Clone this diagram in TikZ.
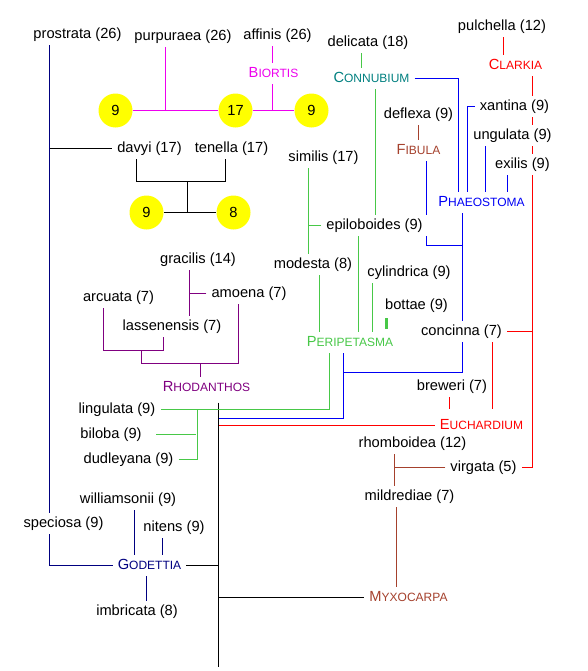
\documentclass[tikz,border=0pt]{standalone}
\usepackage{fontspec}
\setmainfont{Liberation Sans}
\usetikzlibrary{backgrounds}

\definecolor{navycol}{HTML}{000080}
\definecolor{biortiscol}{HTML}{EE00EE}
\definecolor{tealcol}{HTML}{008080}
\definecolor{greencol}{HTML}{48C848}
\definecolor{bluecol}{HTML}{0000F5}
\definecolor{redcol}{HTML}{FF0000}
\definecolor{browncol}{HTML}{A5412D}
\definecolor{purplecol}{HTML}{800080}
\definecolor{chromcol}{HTML}{FFFF00}

% section names in small capitals
\newcommand{\sectlabel}[2]{#1{\fontsize{9}{10}\selectfont #2}}

\begin{document}
\begin{tikzpicture}[x=0.75pt,y=-0.75pt,line width=0.8pt,font=\fontsize{11}{13}\selectfont]

    \tikzstyle{taxon}=[fill=white,inner xsep=3.5pt,inner ysep=2.5pt,text height=8pt,text depth=2.5pt]
    \tikzstyle{chrom}=[circle,fill=chromcol,minimum size=25.5pt,inner sep=0pt]

    \useasboundingbox (0,0) rectangle (587,671);

    \begin{scope}[shift={(0.5,0.5)}]
    % Biortis and the top left
    \node[taxon]                 (prostrata)   at (77,34)     {prostrata (26)};
    \node[taxon]                 (purpuraea)   at (182.5,36)  {purpuraea (26)};
    \node[taxon]                 (affinis)     at (277,35)    {affinis (26)};
    \node[taxon,text=biortiscol] (biortis)     at (273,73)    {\sectlabel{B}{IORTIS}};
    \node[chrom]                 (c9a)         at (115,110)   {9};
    \node[chrom]                 (c17)         at (235,110)   {17};
    \node[chrom]                 (c9b)         at (311,110)   {9};
    \node[taxon]                 (davyi)       at (149,148)   {davyi (17)};
    \node[taxon]                 (tenella)     at (231,148)   {tenella (17)};
    \node[chrom]                 (c9c)         at (146,212)   {9};
    \node[chrom]                 (c8)          at (233,212)   {8};

    % Connubium, Clarkia, Phaeostoma
    \node[taxon]                 (delicata)    at (367.5,42)  {delicata (18)};
    \node[taxon,text=tealcol]    (connubium)   at (371,78)    {\sectlabel{C}{ONNUBIUM}};
    \node[taxon]                 (pulchella)   at (501.5,26)  {pulchella (12)};
    \node[taxon,text=redcol]     (clarkia)     at (515,65)    {\sectlabel{C}{LARKIA}};
    \node[taxon]                 (xantina)     at (514,106)   {xantina (9)};
    \node[taxon]                 (ungulata)    at (512,135)   {ungulata (9)};
    \node[taxon]                 (exilis)      at (522,164)   {exilis (9)};
    \node[taxon]                 (deflexa)     at (418,114)   {deflexa (9)};
    \node[taxon,text=browncol]   (fibula)      at (418,150)   {\sectlabel{F}{IBULA}};
    \node[taxon,text=bluecol]    (phaeostoma)  at (481,202)   {\sectlabel{P}{HAEOSTOMA}};

    % Peripetasma
    \node[taxon]                 (similis)     at (323,157)   {similis (17)};
    \node[taxon]                 (epiloboides) at (374,225)   {epiloboides (9)};
    \node[taxon]                 (modesta)     at (312.5,264) {modesta (8)};
    \node[taxon]                 (cylindrica)  at (408.5,272) {cylindrica (9)};
    \node[taxon]                 (bottae)      at (416,305)   {bottae (9)};
    \node[taxon,text=greencol]   (peripetasma) at (349.5,342) {\sectlabel{P}{ERIPETASMA}};
    \node[taxon]                 (concinna)    at (461,331)   {concinna (7)};

    % Rhodanthos
    \node[taxon]                 (gracilis)    at (197.5,259) {gracilis (14)};
    \node[taxon]                 (amoena)      at (248.5,293) {amoena (7)};
    \node[taxon]                 (arcuata)     at (118,297)   {arcuata (7)};
    \node[taxon]                 (lassenensis) at (171.5,326) {lassenensis (7)};
    \node[taxon,text=purplecol]  (rhodanthos)  at (206,387)   {\sectlabel{R}{HODANTHOS}};
    \node[taxon]                 (lingulata)   at (116.5,409) {lingulata (9)};
    \node[taxon]                 (biloba)      at (110.5,434) {biloba (9)};
    \node[taxon]                 (dudleyana)   at (128,459)   {dudleyana (9)};

    % Euchardium, Myxocarpa
    \node[taxon]                 (breweri)     at (451.5,386) {breweri (7)};
    \node[taxon,text=redcol]     (euchardium)  at (481,425)   {\sectlabel{E}{UCHARDIUM}};
    \node[taxon]                 (rhomboidea)  at (412,443)   {rhomboidea (12)};
    \node[taxon]                 (virgata)     at (483,467)   {virgata (5)};
    \node[taxon]                 (mildrediae)  at (409,496)   {mildrediae (7)};
    \node[taxon,text=browncol]   (myxocarpa)   at (408,597)   {\sectlabel{M}{YXOCARPA}};

    % Godettia
    \node[taxon]                 (williamsonii) at (127.5,499) {williamsonii (9)};
    \node[taxon]                 (speciosa)    at (63,523)    {speciosa (9)};
    \node[taxon]                 (nitens)      at (173.5,527) {nitens (9)};
    \node[taxon,text=navycol]    (godettia)    at (149,565)   {\sectlabel{G}{ODETTIA}};
    \node[taxon]                 (imbricata)   at (136.5,611) {imbricata (8)};

    % branch points
    \coordinate (xg)   at (49,0);
    \coordinate (jP)   at (165,110);
    \coordinate (jA)   at (272,110);
    \coordinate (xDa)  at (136,0);
    \coordinate (xTe)  at (225,0);
    \coordinate (jDT)  at (187,181);
    \coordinate (xD)   at (361,0);
    \coordinate (xC)   at (375,0);
    \coordinate (xK)   at (503,0);
    \coordinate (xR)   at (532,0);
    \coordinate (xP1)  at (458,0);
    \coordinate (xP2)  at (467,0);
    \coordinate (xP3)  at (485,0);
    \coordinate (xP4)  at (507,0);
    \coordinate (xF)   at (426,0);
    \coordinate (jPh)  at (462,245);
    \coordinate (jPe)  at (343,372);
    \coordinate (tTop) at (218,402);
    \coordinate (tBot) at (218,666);
    \coordinate (yB)   at (0,418);
    \coordinate (xS)   at (308,0);
    \coordinate (xM)   at (319,0);
    \coordinate (xE)   at (358,0);
    \coordinate (xCy)  at (372,0);
    \coordinate (xB)   at (386,0);
    \coordinate (xPG)  at (329,0);
    \coordinate (xL)   at (197,0);
    \coordinate (xEu1) at (449,0);
    \coordinate (xEu2) at (492,0);
    \coordinate (xRh)  at (394,0);
    \coordinate (xMi)  at (396,0);
    \coordinate (xGr)  at (189,0);
    \coordinate (xAr)  at (103,0);
    \coordinate (xLa)  at (163,0);
    \coordinate (xAm)  at (238,0);
    \coordinate (jAL)  at (141,350);
    \coordinate (jRh)  at (200,363);
    \coordinate (xWi)  at (134,0);
    \coordinate (xNi)  at (162,0);
    \coordinate (xIm)  at (146,0);
    \end{scope}

    \begin{pgfonlayer}{background}
    % Godettia
    \draw[navycol] (prostrata.south -| xg) -- (speciosa.north -| xg);
    \draw[navycol] (speciosa.south -| xg) |- (godettia.west);
    \draw[navycol] (williamsonii.south -| xWi) -- (godettia.north -| xWi);
    \draw[navycol] (nitens.south -| xNi) -- (godettia.north -| xNi);
    \draw[navycol] (godettia.south -| xIm) -- (imbricata.north -| xIm);

    % black
    \draw (davyi.west -| xg) -- (davyi.west);
    \draw (davyi.south -| xDa) |- (jDT) -| (tenella.south -| xTe);
    \draw (jDT) -- (jDT |- c8);
    \draw (c9c) -- (c8);
    \draw (tTop) -- (tBot);
    \draw (godettia.east) -- (godettia.east -| tTop);
    \draw (myxocarpa.west -| tTop) -- (myxocarpa.west);

    % Biortis
    \draw[biortiscol] (c9a) -- (c17) (c17) -- (c9b);
    \draw[biortiscol] (purpuraea.south -| jP) -- (jP);
    \draw[biortiscol] (affinis.south -| jA) -- (biortis.north -| jA)
                      (biortis.south -| jA) -- (jA);

    % Connubium, Peripetasma
    \draw[greencol] (delicata.south -| xD) -- (connubium.north -| xD);
    \draw[greencol] (connubium.south -| xC) -- (epiloboides.north -| xC);
    \draw[greencol] (similis.south -| xS) -- (modesta.north -| xS);
    \draw[greencol] (epiloboides.west) -- (epiloboides.west -| xS);
    \draw[greencol] (modesta.south -| xM) -- (peripetasma.north -| xM);
    \draw[greencol] (epiloboides.south -| xE) -- (peripetasma.north -| xE);
    \draw[greencol] (cylindrica.south -| xCy) -- (peripetasma.north -| xCy);
    \draw[greencol,line width=1.6pt,shorten <=1.5pt,shorten >=2pt] (bottae.south -| xB) -- (peripetasma.north -| xB);
    \draw[greencol] (peripetasma.south -| xPG) |- (lingulata.east);
    \draw[greencol,shorten <=7pt,shorten >=1.5pt] (biloba.east) -- (biloba.east -| xL);
    \draw[greencol] (dudleyana.east) -| (lingulata.east -| xL);

    % Phaeostoma
    \draw[bluecol] (connubium.east) -| (phaeostoma.north -| xP1);
    \draw[bluecol] (xantina.west) -| (phaeostoma.north -| xP2);
    \draw[bluecol] (ungulata.south -| xP3) -- (phaeostoma.north -| xP3);
    \draw[bluecol] (exilis.south -| xP4) -- (phaeostoma.north -| xP4);
    \draw[bluecol] (fibula.south -| xF) |- (jPh);
    \draw[bluecol] (phaeostoma.south -| jPh) -- (concinna.north -| jPh);
    \draw[bluecol] (concinna.south -| jPh) |- (jPe);
    \draw[bluecol] (peripetasma.south -| jPe) |- (yB -| tTop);

    % Clarkia, Euchardium
    \draw[redcol] (euchardium.west) -- (euchardium.west -| tTop);
    \draw[redcol,shorten >=4pt] (breweri.south -| xEu1) -- (euchardium.north -| xEu1);
    \draw[redcol,shorten >=4pt] (concinna.south -| xEu2) -- (euchardium.north -| xEu2);
    \draw[redcol] (pulchella.south -| xK) -- (clarkia.north -| xK);
    \draw[redcol] (clarkia.south -| xR) |- (virgata.east);
    \draw[redcol] (concinna.east) -- (concinna.east -| xR);

    % Fibula, Myxocarpa
    \draw[browncol] (deflexa.south) -- (fibula.north);
    \draw[browncol] (rhomboidea.south -| xRh) -- (mildrediae.north -| xRh);
    \draw[browncol] (virgata.west) -- (virgata.west -| xRh);
    \draw[browncol] (mildrediae.south -| xMi) -- (myxocarpa.north -| xMi);

    % Rhodanthos
    \draw[purplecol] (gracilis.south -| xGr) -- (lassenensis.north -| xGr);
    \draw[purplecol] (amoena.west) -- (amoena.west -| xGr);
    \draw[purplecol] (arcuata.south -| xAr) |- (jAL) -| (lassenensis.south -| xLa);
    \draw[purplecol] (jAL) |- (jRh) -| (amoena.south -| xAm);
    \draw[purplecol] (jRh) -- (rhodanthos.north -| jRh);
    \end{pgfonlayer}

\end{tikzpicture}
\end{document}
